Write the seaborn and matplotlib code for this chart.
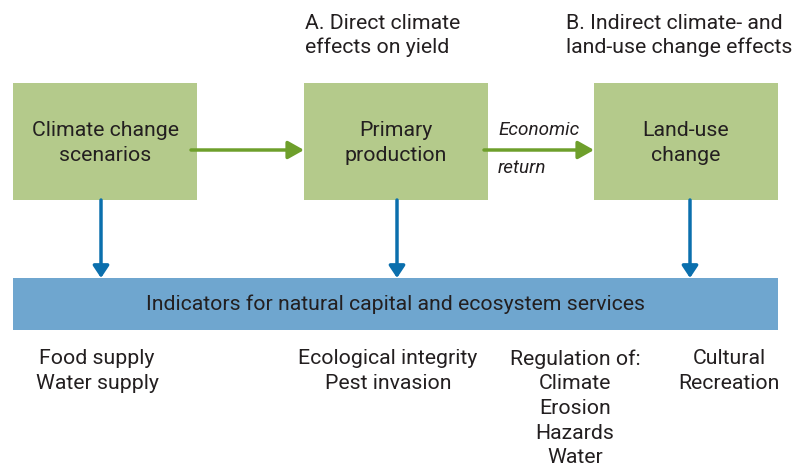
import matplotlib.pyplot as plt
import matplotlib.patches as mpatches
import seaborn as sns

# Diagram content
box_labels = ["Climate change\nscenarios", "Primary\nproduction", "Land-use\nchange"]
header_labels = ["A. Direct climate\neffects on yield", "B. Indirect climate- and\nland-use change effects"]
arrow_label = ["Economic", "return"]
bar_label = "Indicators for natural capital and ecosystem services"
service_groups = [
    "Food supply\nWater supply",
    "Ecological integrity\nPest invasion",
    "Regulation of:\nClimate\nErosion\nHazards\nWater",
    "Cultural\nRecreation",
]

# Layout (pixel coordinates of the 810x468 canvas)
box_x = [13, 304, 594]
box_w, box_top, box_h = 184, 83, 117
header_x = [305, 566]
bar_x0, bar_x1, bar_top, bar_h = 13, 778, 278, 52
drop_x = [101, 397, 690]
service_x = [97, 388, 575, 729]

green_box = "#b4ca8b"
green_arrow = "#6e9f2b"
blue_bar = "#6fa6cf"
blue_arrow = "#0b6fad"
text_col = "#231f20"

sns.set_theme(style="white")
plt.rcParams["font.family"] = ["Roboto", "DejaVu Sans"]

fig = plt.figure(figsize=(8.1, 4.68), dpi=100)
ax = fig.add_axes([0, 0, 1, 1])
ax.set_xlim(0, 810)
ax.set_ylim(468, 0)
ax.axis("off")

fs = 15.3

# Green boxes
for x, lab in zip(box_x, box_labels):
    ax.add_patch(mpatches.Rectangle((x, box_top), box_w, box_h, color=green_box, lw=0))
    ax.text(x + box_w / 2, box_top + box_h / 2 + 1.5, lab, ha="center", va="center",
            fontsize=fs, color=text_col, linespacing=1.38)

# Headers
for x, lab in zip(header_x, header_labels):
    ax.text(x, 35.5, lab, ha="left", va="center", fontsize=fs, color=text_col, linespacing=1.3)

# Green horizontal arrows
for x0, x1 in [(box_x[0] + box_w - 6, box_x[1]), (box_x[1] + box_w - 4, box_x[2])]:
    ax.annotate("", xy=(x1, 150), xytext=(x0, 150),
                arrowprops=dict(arrowstyle="-|>,head_length=0.8,head_width=0.45",
                                color=green_arrow, lw=2.5, shrinkA=0, shrinkB=0))

ax.text(498, 130, arrow_label[0], ha="left", va="center", fontsize=13.6,
        style="italic", color=text_col)
ax.text(498, 168, arrow_label[1], ha="left", va="center", fontsize=13.6,
        style="italic", color=text_col)

# Blue bar
ax.add_patch(mpatches.Rectangle((bar_x0, bar_top), bar_x1 - bar_x0, bar_h, color=blue_bar, lw=0))
ax.text((bar_x0 + bar_x1) / 2, bar_top + bar_h / 2, bar_label, ha="center", va="center",
        fontsize=fs, color=text_col)

# Blue vertical arrows
for x in drop_x:
    ax.annotate("", xy=(x, bar_top), xytext=(x, box_top + box_h),
                arrowprops=dict(arrowstyle="-|>,head_length=0.6,head_width=0.4",
                                color=blue_arrow, lw=2.5, shrinkA=0, shrinkB=0))

# Ecosystem services
for x, lab in zip(service_x, service_groups):
    ax.text(x, 349, lab, ha="center", va="top", fontsize=fs, color=text_col, linespacing=1.38)

fig.savefig("out.png", dpi=100)
